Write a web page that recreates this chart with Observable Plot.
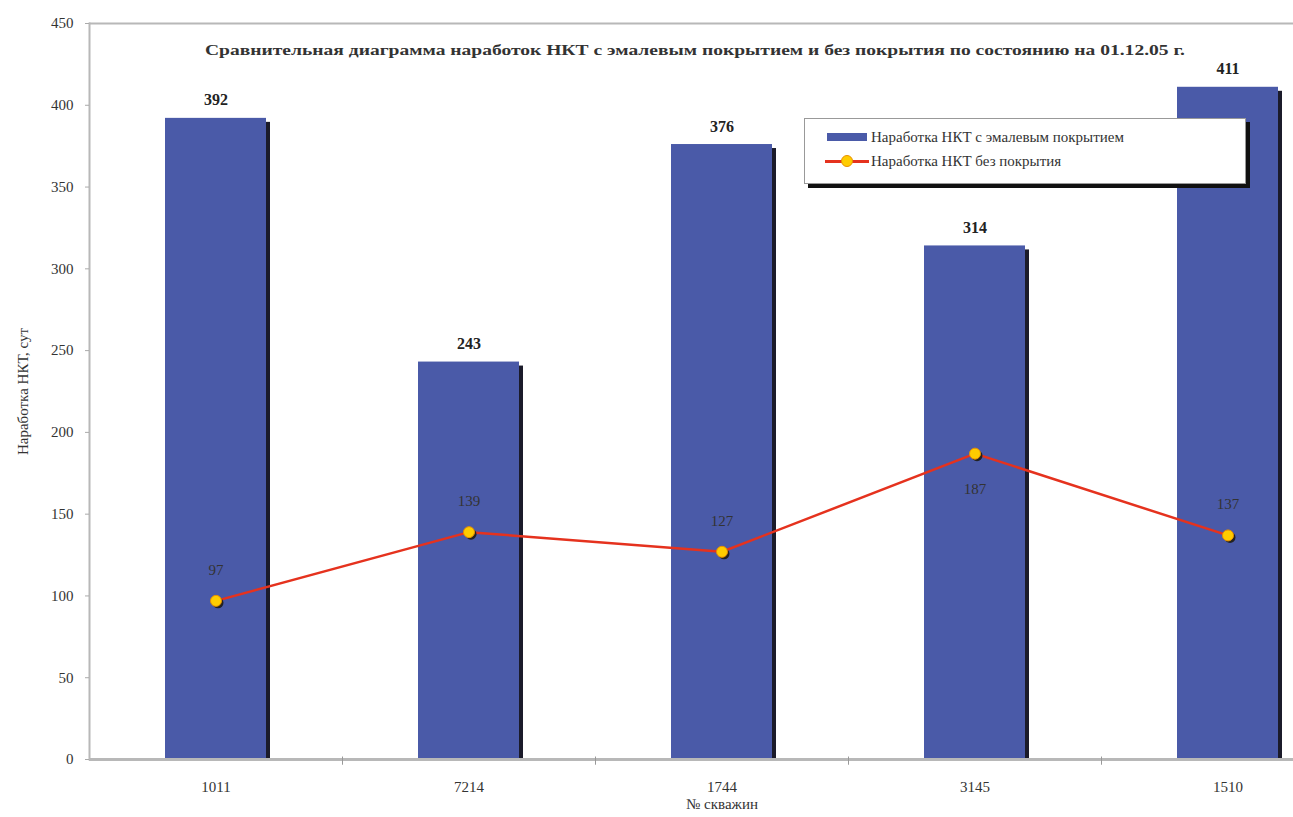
<!DOCTYPE html>
<html>
<head>
<meta charset="utf-8">
<script src="https://cdn.jsdelivr.net/npm/d3@7"></script>
<script src="https://cdn.jsdelivr.net/npm/@observablehq/plot@0.6"></script>
<style>
html, body { margin: 0; padding: 0; overflow: hidden; background: #fff; width: 1293px; height: 817px; }
#wrap { position: relative; width: 1293px; height: 817px; overflow: hidden; }
#chart { width: 1380px; height: 830px; }
#chart svg { overflow: visible; max-width: none !important; width: 1380px; height: 830px; }
#title { position: absolute; left: 205px; top: 43px; font-family: "Liberation Serif", serif; font-size: 14px; font-weight: bold; color: #333; white-space: nowrap; transform-origin: 0 0; }
#legend { position: absolute; left: 804px; top: 118px; width: 440px; height: 64px; background: #fff; border: 1px solid #999; box-shadow: 4px 4px 0 #111; font-family: "Liberation Serif", serif; font-size: 15px; color: #333; }
.row { position: absolute; left: 20px; height: 20px; display: flex; align-items: center; }
.sw { width: 44px; height: 20px; position: relative; margin-right: 2px; }
</style>
</head>
<body>
<div id="wrap">
  <div id="chart"></div>
  <div id="title"></div>
  <div id="legend"></div>
</div>
<script>
const stations = ["1011", "7214", "1744", "3145", "1510"];
const coated = [392, 243, 376, 314, 411];
const uncoated = [97, 139, 127, 187, 137];
const yTicks = [0, 50, 100, 150, 200, 250, 300, 350, 400, 450];
const titleText = "Сравнительная диаграмма наработок НКТ с эмалевым покрытием и без покрытия по состоянию на 01.12.05 г.";
const seriesNames = ["Наработка НКТ с эмалевым покрытием", "Наработка НКТ без покрытия"];
const xLabel = "№ скважин";
const yLabel = "Наработка НКТ, сут";

const data = stations.map((s, i) => ({station: s, coated: coated[i], uncoated: uncoated[i]}));

const barColor = "#4a5aa8";
const lineColor = "#e5321e";
const dotColor = "#ffcc00";

const chart = Plot.plot({
  width: 1380,
  height: 830,
  marginLeft: 89,
  marginRight: 26,
  marginTop: 23,
  marginBottom: 71,
  style: {fontFamily: "Liberation Serif, serif", fontSize: "15px", color: "#333", background: "#fff"},
  x: {domain: stations, paddingInner: 0.6, paddingOuter: 0.3},
  y: {domain: [0, 450]},
  marks: [
    Plot.ruleY([450], {stroke: "#b8b8b8", strokeWidth: 2}),
    Plot.barY(data, {x: "station", y1: () => 2.5, y2: "coated", fill: "#1b1b2a", dx: 4, dy: 4}),
    Plot.barY(data, {x: "station", y: "coated", fill: barColor}),
    Plot.frame({anchor: "left", stroke: "#b8b8b8", strokeWidth: 2}),
    Plot.ruleY([0], {stroke: "#b8b8b8", strokeWidth: 3}),
    Plot.ruleX(stations, {x: d => d, y1: 1.5, y2: -3.5, dx: 126.5, stroke: "#999", strokeWidth: 1}),
    Plot.axisY({ticks: yTicks, tickSize: 4, tickPadding: 12, stroke: "#aaa", label: yLabel, labelAnchor: "center", labelArrow: "none", labelOffset: 72, fontSize: 15}),
    Plot.axisX({tickSize: 0, tickPadding: 22, label: xLabel, labelAnchor: "center", labelArrow: "none", labelOffset: 49, fontSize: 15}),
    Plot.text(data, {x: "station", y: "coated", text: d => String(d.coated), dy: -18, fontWeight: "bold", fontSize: 16, fill: "#222"}),
    Plot.line(data, {x: "station", y: "uncoated", stroke: lineColor, strokeWidth: 2.5}),
    Plot.dot(data, {x: "station", y: "uncoated", r: 5.5, fill: "#222", dx: 2, dy: 2}),
    Plot.dot(data, {x: "station", y: "uncoated", r: 5.5, fill: dotColor, stroke: "#e89000", strokeWidth: 1}),
    Plot.text(data.filter(d => d.uncoated !== d3.max(uncoated)), {x: "station", y: "uncoated", text: d => String(d.uncoated), dy: -31, fill: "#333", fontSize: 15}),
    Plot.text(data.filter(d => d.uncoated === d3.max(uncoated)), {x: "station", y: "uncoated", text: d => String(d.uncoated), dy: 36, fill: "#333", fontSize: 15})
  ]
});
document.getElementById("chart").appendChild(chart);

const title = document.getElementById("title");
title.textContent = titleText;
const tw = title.getBoundingClientRect().width;
title.style.transform = `scaleX(${980 / tw})`;

const legend = document.getElementById("legend");
legend.innerHTML = `
  <div class="row" style="top:8px">
    <div class="sw"><div style="position:absolute;left:2px;top:6px;width:40px;height:8px;background:${barColor}"></div></div>
    <span>${seriesNames[0]}</span>
  </div>
  <div class="row" style="top:32px">
    <div class="sw">
      <div style="position:absolute;left:0;top:8.5px;width:44px;height:3px;background:${lineColor}"></div>
      <div style="position:absolute;left:16px;top:4px;width:10px;height:10px;border-radius:50%;background:${dotColor};border:1px solid #e89000"></div>
    </div>
    <span>${seriesNames[1]}</span>
  </div>`;
</script>
</body>
</html>
